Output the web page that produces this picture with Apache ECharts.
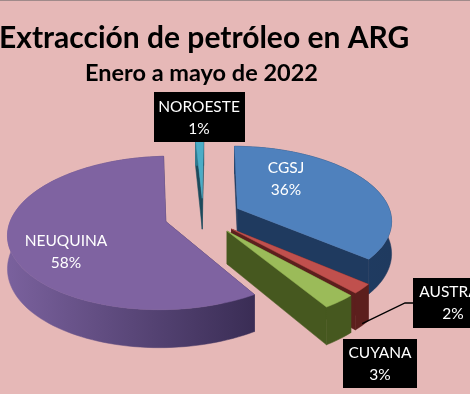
<!DOCTYPE html>
<html>
<head>
<meta charset="utf-8">
<style>
  html, body { margin: 0; padding: 0; background: #e6b8b7; }
  #main { width: 470px; height: 394px; }
</style>
<script src="https://cdn.jsdelivr.net/npm/echarts@6/dist/echarts.min.js"></script>
</head>
<body>
<div id="main"></div>
<script>
// values in pie order, clockwise from the top of the disc
const regions = ['NOROESTE', 'CGSJ', 'AUSTRAL', 'CUYANA', 'NEUQUINA'];
const shares = [1, 36, 2, 3, 58];

const topColors = ['#4bacc6', '#4f81bd', '#c0504d', '#9bbb59', '#7f63a1'];
const wallColors = ['#1d4a5c', '#1f3a5f', '#5c1f1d', '#46581f', '#3a2d55'];
const wallLight = ['#2f7f95', '#1f3f68', '#5c1f1d', '#46581f', '#7a619d'];

// label boxes: left, top, width, height (null = no box, text on the slice)
const labelBoxes = [[154, 92, 91, 50], null, [413, 278, 80, 50], [343, 339, 74, 49], null];
const labelCenters = [[199, 118], [286, 179], [453, 303], [380, 364], [66, 252]];

// projection of the tilted disc
const cx = 203, cy = 216;
const radiusX = 154, radiusY = 73.4, persp = 0.147, depth = 32, explode = 0.25;
const startAngle = -3;

function project(u, v, drop) {
    const s = 1 / (1 - persp * v);
    return [cx + radiusX * u * s, cy + radiusY * v * s + drop * depth * s];
}

// ground coordinates of a point at `deg` degrees clockwise from the top
function ground(deg, r) {
    const a = deg * Math.PI / 180;
    return [r * Math.sin(a), -r * Math.cos(a)];
}

const total = shares.reduce((a, b) => a + b, 0);
let run = 0;
const slices = regions.map((name, i) => {
    const start = startAngle + run / total * 360;
    run += shares[i];
    const end = startAngle + run / total * 360;
    return { name, i, start, end, mid: (start + end) / 2 };
});
// far slices get painted first
const paintOrder = slices.slice().sort((a, b) => ground(a.mid, 1)[1] - ground(b.mid, 1)[1]);

function slicePoints(sl, drop) {
    const off = ground(sl.mid, explode);
    const steps = Math.max(2, Math.ceil((sl.end - sl.start) / 2));
    const rim = [];
    for (let k = 0; k <= steps; k++) {
        const g = ground(sl.start + (sl.end - sl.start) * k / steps, 1);
        rim.push(project(off[0] + g[0], off[1] + g[1], drop));
    }
    return { apex: project(off[0], off[1], drop), rim };
}

function renderSlice(params) {
    const sl = paintOrder[params.dataIndex];
    const top = slicePoints(sl, 0);
    const bot = slicePoints(sl, 1);
    const wall = wallColors[sl.i];
    const xs = top.rim.map(p => p[0]);
    const children = [];
    const poly = (points, fill) => children.push({
        type: 'polygon',
        shape: { points },
        style: { fill, stroke: fill, lineWidth: 0.5 }
    });
    poly([top.apex, top.rim[0], bot.rim[0], bot.apex], wall);
    poly([top.apex, top.rim[top.rim.length - 1], bot.rim[bot.rim.length - 1], bot.apex], wall);
    poly(top.rim.concat(bot.rim.slice().reverse()), {
        type: 'linear',
        global: true,
        x: Math.min.apply(null, xs),
        y: 0,
        x2: Math.max.apply(null, xs),
        y2: 0,
        colorStops: [
            { offset: 0, color: wallLight[sl.i] },
            { offset: 1, color: wall }
        ]
    });
    poly([top.apex].concat(top.rim), topColors[sl.i]);
    return { type: 'group', children };
}

function renderLabel(params) {
    const sl = slices[params.dataIndex];
    const box = labelBoxes[sl.i];
    const c = labelCenters[sl.i];
    const children = [];
    if (sl.name === 'AUSTRAL') {
        const off = ground(sl.mid, explode);
        const g = ground(sl.mid, 1);
        const from = project(off[0] + g[0], off[1] + g[1], 0.95);
        children.push({
            type: 'polyline',
            shape: { points: [from, [box[0] - 8, c[1]], [box[0], c[1]]] },
            style: { fill: 'none', stroke: '#000', lineWidth: 1.3 }
        });
    }
    if (box) {
        children.push({
            type: 'rect',
            shape: { x: box[0], y: box[1], width: box[2], height: box[3] },
            style: { fill: '#000' }
        });
    }
    const textStyle = { fill: '#fff', font: '15.5px Lato', align: 'center', verticalAlign: 'middle' };
    children.push({
        type: 'text',
        style: Object.assign({ text: sl.name, x: c[0], y: c[1] - 11 }, textStyle)
    });
    children.push({
        type: 'text',
        style: Object.assign({ text: shares[sl.i] + '%', x: c[0], y: c[1] + 11 }, textStyle)
    });
    return { type: 'group', children };
}

const chart = echarts.init(document.getElementById('main'), null, { renderer: 'canvas' });
chart.setOption({
    backgroundColor: '#e6b8b7',
    animation: false,
    title: [
        {
            text: 'Extracción de petróleo en ARG',
            left: -1,
            top: 23,
            padding: 0,
            textStyle: { fontFamily: 'Lato', fontWeight: 'bold', fontSize: 30, color: '#000' }
        },
        {
            text: 'Enero a mayo de 2022',
            left: 85,
            top: 61,
            padding: 0,
            textStyle: { fontFamily: 'Lato', fontWeight: 'bold', fontSize: 23.5, color: '#000' }
        }
    ],
    graphic: [
        {
            type: 'rect',
            shape: { x: 0, y: 0, width: 470, height: 1 },
            style: { fill: '#a08a8a' }
        }
    ],
    series: [
        {
            type: 'custom',
            coordinateSystem: 'none',
            silent: true,
            z: 2,
            data: paintOrder.map(s => [shares[s.i]]),
            renderItem: renderSlice
        },
        {
            type: 'custom',
            coordinateSystem: 'none',
            silent: true,
            z: 3,
            data: slices.map(s => [shares[s.i]]),
            renderItem: renderLabel
        }
    ]
});
</script>
</body>
</html>
